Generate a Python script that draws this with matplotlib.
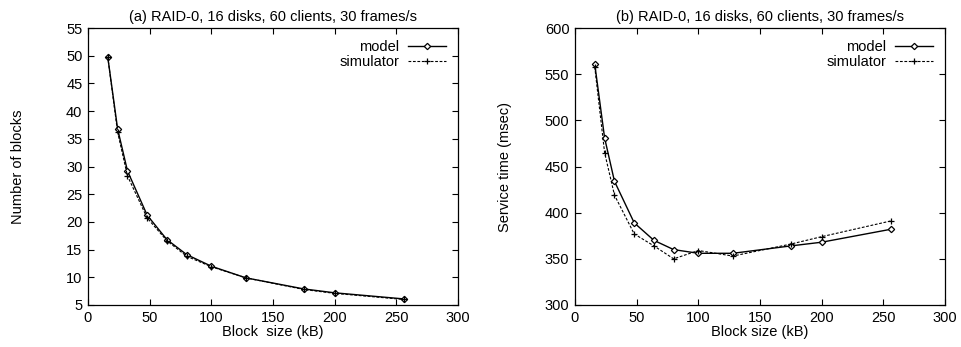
import matplotlib
matplotlib.use("Agg")
import matplotlib.pyplot as plt

plt.rcParams['font.family'] = ['Liberation Sans', 'DejaVu Sans']
plt.rcParams['font.size'] = 10.5

block_kb = [16, 24, 32, 48, 64, 80, 100, 128, 175, 200, 256]

blocks_model = [49.8, 36.8, 29.2, 21.2, 16.8, 14.1, 12.0, 9.9, 7.9, 7.2, 6.1]
blocks_sim = [49.8, 36.2, 28.3, 20.7, 16.6, 13.8, 11.9, 9.9, 7.8, 7.1, 6.0]

svc_model = [561, 481, 434, 389, 370, 360, 356, 356, 364, 368, 382]
svc_sim = [558, 465, 419, 377, 364, 350, 359, 353, 366, 374, 391]

title = "RAID-0, 16 disks, 60 clients, 30 frames/s"

fig = plt.figure(figsize=(9.62, 3.47), dpi=100)
ax1 = fig.add_axes([88 / 962, 1 - 305 / 347, 370 / 962, 277 / 347])
ax2 = fig.add_axes([575 / 962, 1 - 305 / 347, 370 / 962, 277 / 347])


def draw(ax, model, sim, ylim, yticks, ylabel, xlabel, tag):
    ax.plot(block_kb, model, color='black', lw=1.0, marker='D', ms=3.2,
            mfc='white', mec='black', mew=0.9, label='model')
    ax.plot(block_kb, sim, color='black', lw=0.8, ls=(0, (2.5, 1.5)), marker='+',
            ms=4.5, mew=0.9, label='simulator')
    ax.set_xlim(0, 300)
    ax.set_ylim(*ylim)
    ax.set_xticks(range(0, 301, 50))
    ax.set_yticks(yticks)
    ax.tick_params(direction='in', top=True, right=True, length=4, width=0.8, pad=4)
    for s in ax.spines.values():
        s.set_linewidth(0.9)
    ax.set_title(f"({tag}) {title}", fontsize=10.5, pad=5)
    ax.set_xlabel(xlabel, labelpad=0)
    ax.set_ylabel(ylabel)
    ax.yaxis.set_label_coords(-0.17, 0.5)
    leg = ax.legend(loc='upper right', frameon=False, markerfirst=False,
                    handlelength=2.6, handletextpad=0.6, labelspacing=0.1,
                    borderaxespad=0.4, fontsize=10.5)
    for t in leg.get_texts():
        t.set_ha('right')


draw(ax1, blocks_model, blocks_sim, (5, 55), range(5, 56, 5),
     "Number of blocks", "Block  size (kB)", "a")
draw(ax2, svc_model, svc_sim, (300, 600), range(300, 601, 50),
     "Service time (msec)", "Block size (kB)", "b")

fig.savefig("out.png", dpi=100)
